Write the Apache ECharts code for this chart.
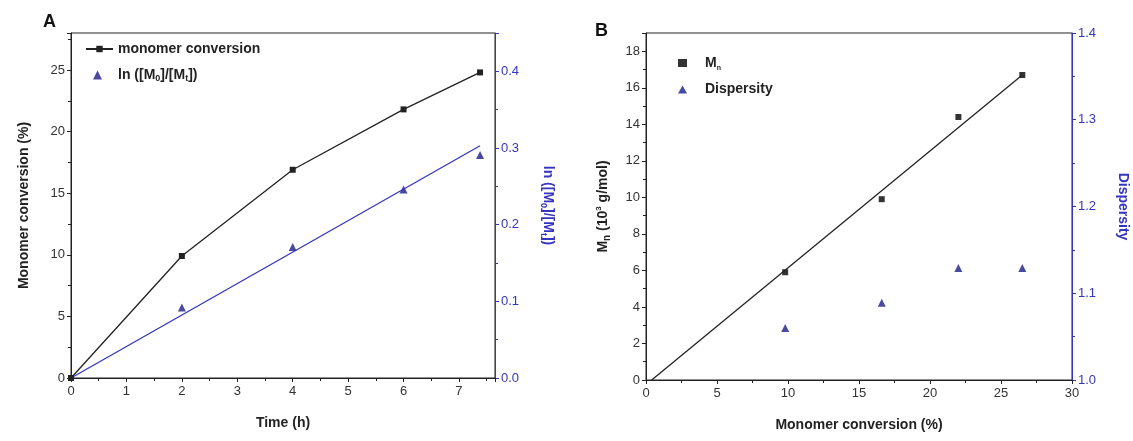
<!DOCTYPE html>
<html>
<head>
<meta charset="utf-8">
<script src="https://cdn.jsdelivr.net/npm/echarts@6/dist/echarts.min.js"></script>
<style>
  html, body { margin: 0; padding: 0; background: #fff; }
  #main { width: 1133px; height: 441px; }
</style>
</head>
<body>
<div id="main"></div>
<script>
// panel A: conversion vs time
var timeH = [0, 2, 4, 6, 7.38];
var conversionPct = [0, 9.9, 16.9, 21.8, 24.8];
var lnTime = [2, 4, 6, 7.38];
var lnValues = [0.092, 0.171, 0.246, 0.291];
var lnFitX = [0, 7.38];
var lnFitY = [0, 0.303];

// panel B: Mn and dispersity vs conversion
var convB = [9.8, 16.6, 22.0, 26.5];
var mnValues = [5.9, 9.9, 14.4, 16.7];
var dispersity = [1.06, 1.089, 1.129, 1.129];
var mnFitX = [0.4, 26.5];
var mnFitY = [0, 16.7];

function pairs(xs, ys) {
  return xs.map(function (x, i) { return [x, ys[i]]; });
}

var FONT = "Liberation Sans, Arial, sans-serif";
var BLUE = "#3535c0";
var NAVY = "#1c1c8a";
var BLACK = "#222";

function xAxisBase(gridIndex, max, interval, name) {
  return {
    type: "value", gridIndex: gridIndex, min: 0, max: max, interval: interval,
    name: name, nameLocation: "middle", nameGap: 38,
    nameTextStyle: { fontFamily: FONT, fontWeight: "bold", fontSize: 14, color: BLACK },
    axisLine: { show: true, lineStyle: { color: BLACK, width: 1 } },
    axisTick: { show: true, length: 4, lineStyle: { color: BLACK } },
    minorTick: { show: true, splitNumber: 2, length: 3, lineStyle: { color: BLACK } },
    axisLabel: { fontFamily: FONT, fontSize: 13, color: "#333", margin: 7, showMaxLabel: false },
    splitLine: { show: false }
  };
}

function yAxisBase(gridIndex, min, max, interval, color, position) {
  return {
    type: "value", gridIndex: gridIndex, min: min, max: max, interval: interval,
    position: position, nameLocation: "middle",
    axisLine: { show: true, onZero: false, lineStyle: { color: color, width: 1 } },
    axisTick: { show: true, length: 4, lineStyle: { color: color } },
    minorTick: { show: true, splitNumber: 2, length: 3, lineStyle: { color: color } },
    axisLabel: { fontFamily: FONT, fontSize: 13, color: color === BLACK ? "#333" : color, margin: 6, showMaxLabel: false },
    splitLine: { show: false }
  };
}

var chart = echarts.init(document.getElementById("main"));

var yA0 = yAxisBase(0, 0, 28, 5, BLACK, "left");
yA0.name = "Monomer conversion (%)";
yA0.nameGap = 40;
yA0.nameTextStyle = { fontFamily: FONT, fontWeight: "bold", fontSize: 14, color: BLACK };

var yA1 = yAxisBase(0, 0, 0.45, 0.1, BLUE, "right");
yA1.name = "ln ([M{s|0}]/[M{s|t}])";
yA1.nameRotate = -90;
yA1.nameGap = 44;
yA1.axisLabel.formatter = function (v) { return v.toFixed(1); };
yA1.nameTextStyle = {
  fontFamily: FONT, fontWeight: "bold", fontSize: 14, color: BLUE,
  rich: { s: { fontFamily: FONT, fontWeight: "bold", fontSize: 9, color: BLUE, padding: [8, 0, 0, 0] } }
};

var yB0 = yAxisBase(1, 0, 19, 2, BLACK, "left");
yB0.name = "M{s|n} (10{p|3} g/mol)";
yB0.nameGap = 34;
yB0.nameTextStyle = {
  fontFamily: FONT, fontWeight: "bold", fontSize: 14, color: BLACK,
  rich: {
    s: { fontFamily: FONT, fontWeight: "bold", fontSize: 10, color: BLACK, padding: [8, 0, 0, 0] },
    p: { fontFamily: FONT, fontSize: 8, color: BLACK, padding: [0, 0, 8, 0] }
  }
};

var yB1 = yAxisBase(1, 1.0, 1.4, 0.1, BLUE, "right");
yB1.name = "Dispersity";
yB1.nameRotate = -90;
yB1.nameGap = 44;
yB1.axisLabel.formatter = function (v) { return v.toFixed(1); };
yB1.axisLabel.showMaxLabel = true;
yB1.nameTextStyle = { fontFamily: FONT, fontWeight: "bold", fontSize: 14, color: BLUE };

var xB = xAxisBase(1, 30, 5, "Monomer conversion (%)");
xB.axisLabel.showMaxLabel = true;

var legendText = {
  fontFamily: FONT, fontWeight: "bold", fontSize: 14, color: BLACK,
  rich: {
    b: { fontFamily: FONT, fontWeight: "bold", fontSize: 14, color: BLACK },
    s: { fontFamily: FONT, fontWeight: "bold", fontSize: 9, color: BLACK, padding: [8, 0, 0, 0] },
    n: { fontFamily: FONT, fontWeight: "bold", fontSize: 7, color: BLACK, padding: [10, 0, 0, 0] },
    g: { width: 11 },
    h: { width: 13 }
  }
};

function legendFormatter(name) {
  if (name === "ln") return "{g|}{b|ln ([M}{s|0}{b|]/[M}{s|t}{b|])}";
  if (name === "Mn") return "{h|}{b|M}{n|n}";
  if (name === "Dispersity") return "{h|}{b|Dispersity}";
  return name;
}

var option = {
  backgroundColor: "#fff",
  animation: false,
  textStyle: { fontFamily: FONT },
  title: [
    { text: "A", left: 38, top: 8, textStyle: { fontFamily: FONT, fontWeight: "bold", fontSize: 18, color: "#111" } },
    { text: "B", left: 590, top: 17, textStyle: { fontFamily: FONT, fontWeight: "bold", fontSize: 18, color: "#111" } }
  ],
  grid: [
    { left: 71, top: 33, width: 424, height: 345, show: true, borderColor: BLACK, borderWidth: 1, backgroundColor: "transparent" },
    { left: 646, top: 33, width: 426, height: 347, show: true, borderColor: BLACK, borderWidth: 1, backgroundColor: "transparent" }
  ],
  legend: [
    {
      data: ["monomer conversion"], left: 80, top: 37, itemWidth: 27, itemHeight: 8, itemGap: 4,
      textStyle: legendText, formatter: legendFormatter
    },
    {
      data: ["ln"], left: 88, top: 63, itemWidth: 9, itemHeight: 9, itemGap: 4,
      textStyle: legendText, formatter: legendFormatter
    },
    {
      data: ["Mn", "Dispersity"],
      orient: "vertical", left: 673, top: 51, itemGap: 11, itemWidth: 9, itemHeight: 8,
      textStyle: legendText, formatter: legendFormatter
    }
  ],
  xAxis: [
    xAxisBase(0, 7.65, 1, "Time (h)"),
    xB
  ],
  yAxis: [yA0, yA1, yB0, yB1],
  series: [
    {
      name: "monomer conversion", type: "line", xAxisIndex: 0, yAxisIndex: 0,
      data: pairs(timeH, conversionPct),
      symbol: "rect", symbolSize: 6, showAllSymbol: true,
      lineStyle: { color: BLACK, width: 1.3 }, itemStyle: { color: BLACK }
    },
    {
      name: "ln fit", type: "line", xAxisIndex: 0, yAxisIndex: 1,
      data: pairs(lnFitX, lnFitY), symbol: "none",
      lineStyle: { color: BLUE, width: 1.3 }
    },
    {
      name: "ln", type: "scatter", xAxisIndex: 0, yAxisIndex: 1,
      data: pairs(lnTime, lnValues), symbol: "triangle", symbolSize: 8,
      itemStyle: { color: NAVY }
    },
    {
      name: "Mn fit", type: "line", xAxisIndex: 1, yAxisIndex: 2,
      data: pairs(mnFitX, mnFitY), symbol: "none",
      lineStyle: { color: BLACK, width: 1.3 }
    },
    {
      name: "Mn", type: "scatter", xAxisIndex: 1, yAxisIndex: 2,
      data: pairs(convB, mnValues), symbol: "rect", symbolSize: 6,
      itemStyle: { color: "#000" }
    },
    {
      name: "Dispersity", type: "scatter", xAxisIndex: 1, yAxisIndex: 3,
      data: pairs(convB, dispersity), symbol: "triangle", symbolSize: 8,
      itemStyle: { color: NAVY }
    }
  ]
};

chart.setOption(option);
</script>
</body>
</html>
